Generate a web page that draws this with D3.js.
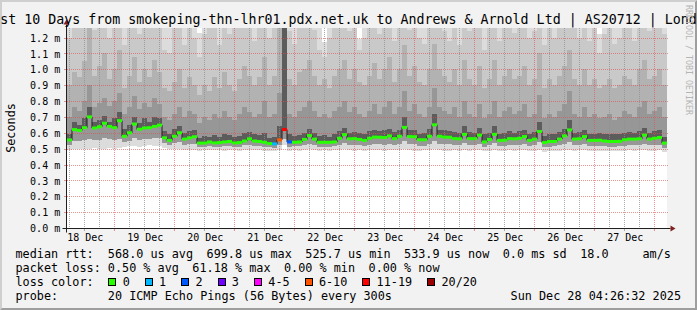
<!DOCTYPE html>
<html>
<head>
<meta charset="utf-8">
<script src="https://cdn.jsdelivr.net/npm/d3@7"></script>
<style>
  html, body { margin: 0; padding: 0; background: #f2f2f2; }
  svg { display: block; font-family: "DejaVu Sans Mono", monospace; }
</style>
</head>
<body>
<svg width="697" height="310"></svg>
<script>
// --- data (values in microseconds, one column per 2 hours) ---
const title = 'Last 10 Days from smokeping-thn-lhr01.pdx.net.uk to Andrews & Arnold Ltd | AS20712 | London';
const startTime = '2025-12-18T05:05:00Z';
const stepHours = 2;

const dayTicks = ['2025-12-18', '2025-12-19', '2025-12-20', '2025-12-21', '2025-12-22',
                  '2025-12-23', '2025-12-24', '2025-12-25', '2025-12-26', '2025-12-27'];
const yTicks = [0, 100, 200, 300, 400, 500, 600, 700, 800, 900, 1000, 1100, 1200];

// median rtt
const med = [
  555, 620, 615, 632, 700, 630, 638, 660, 640, 632,
  676, 578, 600, 655, 622, 630, 632, 640, 648, 568,
  552, 578, 600, 560, 568, 575, 535, 535, 542, 536,
  538, 542, 545, 536, 538, 548, 562, 548, 545, 540,
  532, 530, 555, 620, 542, 540, 542, 558, 582, 560,
  540, 540, 540, 542, 565, 588, 562, 563, 558, 552,
  565, 573, 572, 570, 580, 563, 578, 634, 576, 575,
  556, 556, 578, 650, 578, 573, 572, 563, 562, 590,
  563, 563, 585, 542, 558, 590, 552, 553, 563, 562,
  565, 576, 552, 560, 608, 538, 545, 545, 560, 580,
  618, 560, 562, 576, 552, 552, 553, 548, 545, 545,
  546, 556, 560, 560, 562, 585, 560, 565, 570, 535
];

// lost pings (of 20) per column
const loss = [
  0, 0, 0, 0, 0, 0, 0, 0, 0, 0,
  0, 0, 0, 0, 0, 0, 0, 0, 0, 0,
  0, 0, 0, 0, 0, 0, 0, 0, 0, 0,
  0, 0, 0, 0, 0, 0, 0, 0, 0, 0,
  0, 1, 7, 12, 2, 0, 0, 0, 0, 0,
  0, 0, 0, 0, 0, 0, 0, 0, 0, 0,
  0, 0, 0, 0, 0, 0, 0, 0, 0, 0,
  0, 0, 0, 0, 0, 0, 0, 0, 0, 0,
  0, 0, 0, 0, 0, 0, 0, 0, 0, 0,
  0, 0, 0, 0, 0, 0, 0, 0, 0, 0,
  0, 0, 0, 0, 0, 0, 0, 0, 0, 0,
  0, 0, 0, 0, 0, 0, 0, 0, 0, 0
];

// smoke: fastest ping
const lo = [
  490, 495, 498, 500, 497, 502, 498, 500, 503, 499,
  505, 512, 515, 518, 512, 516, 520, 514, 518, 505,
  500, 498, 495, 492, 494, 490, 488, 490, 492, 489,
  490, 487, 492, 490, 488, 491, 494, 490, 489, 487,
  485, 482, 490, 525, 488, 490, 487, 492, 495, 490,
  488, 490, 487, 489, 492, 495, 490, 488, 491, 487,
  490, 493, 490, 488, 492, 489, 491, 495, 490, 488,
  487, 489, 492, 495, 490, 488, 487, 489, 486, 491,
  488, 490, 493, 484, 487, 492, 486, 488, 490, 487,
  489, 492, 485, 488, 494, 480, 484, 486, 488, 490,
  493, 487, 489, 491, 486, 484, 487, 485, 482, 484,
  486, 488, 490, 487, 489, 492, 488, 486, 490, 480
];

// smoke: inner lower ping
const lo2 = [
  520, 545, 548, 555, 560, 552, 556, 565, 558, 552,
  560, 540, 550, 565, 555, 560, 562, 565, 568, 535,
  525, 535, 540, 525, 530, 532, 512, 510, 515, 512,
  512, 515, 518, 512, 513, 520, 525, 518, 516, 512,
  508, 505, 520, 560, 512, 514, 515, 522, 530, 522,
  512, 512, 513, 515, 525, 535, 522, 523, 520, 518,
  525, 530, 528, 526, 532, 522, 530, 545, 530, 528,
  518, 518, 530, 548, 530, 528, 527, 522, 520, 535,
  522, 522, 532, 512, 520, 535, 517, 518, 522, 520,
  524, 530, 516, 520, 540, 508, 513, 514, 520, 530,
  540, 520, 522, 530, 516, 515, 516, 514, 512, 513,
  514, 518, 522, 520, 522, 532, 520, 522, 525, 505
];

// smoke: upper pings, outermost (up1) to innermost (up5)
const up1 = [
  1300, 1300, 1300, 1300, 1300, 1300, 1300, 1300, 1300, 1300,
  1300, 1300, 1300, 1300, 1300, 1300, 1300, 1300, 1300, 1300,
  1300, 1300, 1300, 1300, 1300, 1300, 1230, 1300, 1300, 1300,
  1300, 1300, 1300, 1300, 1300, 1300, 1300, 1300, 1300, 1300,
  1300, 1300, 1300, 1300, 1300, 1300, 1300, 1300, 1300, 1300,
  1300, 1170, 1300, 1300, 1300, 1300, 1300, 1300, 1190, 1300,
  1300, 1300, 1300, 1300, 1300, 1300, 1300, 1300, 1300, 1300,
  1300, 1300, 1300, 1300, 1300, 1300, 1300, 1300, 1300, 1300,
  1300, 1300, 1300, 1300, 1300, 1300, 1300, 1300, 1300, 1300,
  1300, 1300, 1300, 1300, 1300, 1300, 1300, 1300, 1300, 1300,
  1300, 1300, 1300, 1300, 1300, 1300, 1220, 1300, 1300, 1300,
  1300, 1300, 1300, 1300, 1300, 1300, 1300, 1300, 1300, 1300
];
const up2 = [
  1200, 1300, 1300, 1300, 1300, 1250, 1300, 1300, 1200, 1300,
  1300, 1150, 1300, 1300, 1220, 1300, 1260, 1300, 1300, 1120,
  1100, 1300, 1300, 1150, 1300, 1200, 1080, 1220, 1300, 1300,
  1150, 1300, 1220, 1300, 1260, 1300, 1300, 1180, 1300, 1300,
  1200, 1300, 1300, 1300, 1240, 1160, 1300, 1300, 1300, 1250,
  1120, 1080, 1200, 1300, 1300, 1300, 1240, 1300, 1120, 1200,
  1300, 1300, 1220, 1300, 1300, 1180, 1300, 1300, 1250, 1300,
  1200, 1160, 1300, 1300, 1300, 1240, 1180, 1300, 1150, 1300,
  1240, 1300, 1300, 1120, 1260, 1300, 1180, 1300, 1300, 1230,
  1300, 1300, 1200, 1240, 1300, 1150, 1300, 1200, 1300, 1300,
  1300, 1260, 1200, 1300, 1180, 1260, 1100, 1220, 1300, 1160,
  1200, 1300, 1260, 1180, 1300, 1300, 1240, 1300, 1300, 1220
];
const up3 = [
  900, 980, 950, 1050, 1300, 960, 1020, 1100, 940, 1000,
  1120, 880, 960, 1080, 920, 1000, 950, 1060, 980, 880,
  860, 920, 1000, 880, 950, 900, 840, 900, 860, 950,
  880, 980, 900, 860, 940, 1020, 960, 900, 950, 1080,
  900, 960, 1300, 1300, 940, 900, 980, 1000, 1060, 960,
  900, 940, 880, 960, 1000, 1060, 940, 1000, 920, 900,
  960, 1040, 940, 1000, 1080, 920, 1000, 1150, 960, 1020,
  920, 900, 1000, 1160, 1000, 960, 920, 1000, 900, 1060,
  940, 900, 1020, 880, 940, 1060, 900, 960, 1000, 940,
  960, 1020, 900, 940, 1100, 880, 940, 900, 960, 1020,
  1120, 940, 900, 1000, 900, 940, 880, 900, 940, 880,
  900, 960, 940, 900, 1000, 1060, 940, 960, 1000, 900
];
const up4 = [
  700, 760, 740, 800, 900, 760, 790, 820, 770, 800,
  850, 720, 760, 830, 750, 790, 760, 820, 780, 700,
  680, 720, 760, 700, 740, 720, 660, 700, 680, 720,
  690, 740, 700, 680, 720, 760, 730, 700, 720, 800,
  700, 720, 850, 1300, 720, 700, 740, 760, 800, 740,
  700, 720, 690, 740, 760, 800, 730, 760, 720, 700,
  740, 780, 720, 760, 800, 720, 760, 860, 740, 780,
  720, 700, 760, 880, 760, 740, 720, 760, 700, 800,
  720, 700, 780, 690, 720, 800, 700, 740, 760, 720,
  740, 780, 700, 720, 840, 690, 720, 700, 740, 780,
  860, 720, 700, 760, 700, 720, 690, 700, 720, 680,
  700, 740, 720, 700, 760, 800, 720, 740, 760, 700
];
const up5 = [
  590, 665, 650, 690, 760, 665, 680, 705, 670, 690,
  730, 625, 650, 700, 660, 690, 670, 700, 690, 610,
  590, 625, 640, 600, 610, 615, 570, 580, 575, 585,
  575, 590, 585, 575, 580, 600, 605, 590, 585, 600,
  570, 575, 640, 1300, 590, 580, 585, 600, 625, 600,
  580, 585, 575, 590, 610, 630, 600, 605, 600, 590,
  610, 620, 610, 615, 625, 605, 620, 700, 615, 620,
  595, 600, 625, 720, 620, 615, 610, 605, 600, 640,
  605, 600, 630, 590, 600, 640, 595, 600, 610, 600,
  610, 620, 595, 605, 670, 580, 590, 590, 605, 625,
  680, 600, 605, 620, 595, 590, 600, 590, 590, 590,
  590, 600, 605, 600, 610, 630, 600, 610, 615, 575
];

// legend values
const rttStats = [568.0, 699.8, 525.7, 533.9];
const statNames = ['avg', 'max', 'min', 'now'];
const rttSd = 0.0;
const rttAmps = 18.0;
const lossStats = [0.50, 61.18, 0.00, 0.00];
const lossLabels = ['0', '1', '2', '3', '4-5', '6-10', '11-19', '20/20'];
const lossColors = ['#26ff00', '#00b8ff', '#0059ff', '#7000ff', '#ff00ff', '#ff5500', '#ff0000', '#9a0000'];
const probeText = '20 ICMP Echo Pings (56 Bytes) every 300s';
const stampText = 'Sun Dec 28 04:26:32 2025';

// --- layout ---
const svg = d3.select('svg');
const W = +svg.attr('width');
const H = +svg.attr('height');
const plot = { left: 67, right: 667, top: 28, bottom: 228 };

const gridColor = 'rgba(143,143,143,0.75)';
const mgridColor = 'rgba(222,79,79,0.6)';
const axisColor = '#1f1f1f';
const arrowColor = '#801f1f';

const n = med.length;
const t0 = new Date(startTime);
const t1 = d3.utcHour.offset(t0, n * stepHours);
const colTime = k => d3.utcHour.offset(t0, k * stepHours);

const x = d3.scaleUtc().domain([t0, t1]).range([plot.left, plot.right]);
const y = d3.scaleLinear().domain([0, 1260]).range([plot.bottom, plot.top]).clamp(true);
const px = v => Math.floor(v) + 0.5;

// background + 3d frame
svg.append('rect').attr('width', W).attr('height', H).attr('fill', '#f2f2f2');
svg.append('path')
    .attr('d', `M0,0 H${W} L${W - 2},2 H2 V${H - 2} L0,${H} Z`)
    .attr('fill', '#cfcfcf');
svg.append('path')
    .attr('d', `M0,${H} L2,${H - 2} H${W - 2} V2 L${W},0 V${H} Z`)
    .attr('fill', '#9e9e9e');

svg.append('rect')
    .attr('x', plot.left).attr('y', plot.top)
    .attr('width', plot.right - plot.left).attr('height', plot.bottom - plot.top)
    .attr('fill', '#ffffff');

// --- smoke ---
const bands = [
    { top: up1, bottom: lo, color: '#dcdcdc' },
    { top: up2, bottom: lo2, color: '#c9c9c9' },
    { top: up3, bottom: lo2, color: '#b2b2b2' },
    { top: up4, bottom: lo2, color: '#979797' },
    { top: up5, bottom: med, color: '#5c5c5c' }
];

const smoke = svg.append('g').attr('class', 'smoke');
bands.forEach(b => {
    smoke.append('g')
        .selectAll('rect')
        .data(d3.range(n))
        .join('rect')
        .attr('x', k => x(colTime(k)))
        .attr('width', k => x(colTime(k + 1)) - x(colTime(k)))
        .attr('y', k => y(b.top[k]))
        .attr('height', k => Math.max(0, y(b.bottom[k]) - y(b.top[k])))
        .attr('fill', b.color)
        .attr('shape-rendering', 'crispEdges');
});

// --- grid ---
const grid = svg.append('g').attr('class', 'grid').attr('fill', 'none');

const minorTimes = d3.utcHour.every(6).range(t0, t1).filter(d => d.getUTCHours() !== 0);
grid.selectAll('.minor-x')
    .data(minorTimes)
    .join('line')
    .attr('x1', d => px(x(d))).attr('x2', d => px(x(d)))
    .attr('y1', plot.top).attr('y2', plot.bottom)
    .attr('stroke', gridColor)
    .attr('stroke-dasharray', '1,1');

const majorTimes = d3.utcDay.range(t0, t1);
grid.selectAll('.major-x')
    .data(majorTimes)
    .join('line')
    .attr('x1', d => px(x(d))).attr('x2', d => px(x(d)))
    .attr('y1', plot.top).attr('y2', plot.bottom)
    .attr('stroke', mgridColor)
    .attr('stroke-dasharray', '1,1');

grid.selectAll('.major-y')
    .data(yTicks.slice(1))
    .join('line')
    .attr('x1', plot.left).attr('x2', plot.right + 2)
    .attr('y1', d => Math.round(y(d)) + 0.5).attr('y2', d => Math.round(y(d)) + 0.5)
    .attr('stroke', mgridColor)
    .attr('stroke-dasharray', '1,1');

// small solid ticks outside the axes
grid.selectAll('.tick-y')
    .data(yTicks)
    .join('line')
    .attr('x1', plot.left - 3).attr('x2', plot.left)
    .attr('y1', d => Math.round(y(d)) + 0.5).attr('y2', d => Math.round(y(d)) + 0.5)
    .attr('stroke', mgridColor);

const noonTimes = dayTicks.map(d => new Date(d + 'T12:00:00Z'));
grid.selectAll('.tick-x')
    .data(noonTimes.concat(majorTimes))
    .join('line')
    .attr('x1', d => px(x(d))).attr('x2', d => px(x(d)))
    .attr('y1', plot.bottom + 1).attr('y2', plot.bottom + 3)
    .attr('stroke', (d, i) => i < noonTimes.length ? gridColor : mgridColor);

// --- median line + loss coloured bars ---
const medLine = d3.line()
    .x(k => x(colTime(k)))
    .y(k => y(med[Math.min(k, n - 1)]))
    .curve(d3.curveStepAfter);

svg.append('path')
    .datum(d3.range(n + 1))
    .attr('d', medLine)
    .attr('fill', 'none')
    .attr('stroke', '#202020')
    .attr('stroke-width', 1);

const lossColor = d3.scaleThreshold()
    .domain([1, 2, 3, 4, 6, 11, 20])
    .range(lossColors);

svg.append('g')
    .selectAll('rect')
    .data(d3.range(n))
    .join('rect')
    .attr('x', k => x(colTime(k)))
    .attr('width', k => x(colTime(k + 1)) - x(colTime(k)))
    .attr('y', k => y(med[k]) - 1.5)
    .attr('height', 3)
    .attr('fill', k => lossColor(loss[k]));

// --- axes ---
svg.append('line')
    .attr('x1', plot.left - 4.5).attr('x2', plot.right + 3.5)
    .attr('y1', plot.bottom + 0.5).attr('y2', plot.bottom + 0.5)
    .attr('stroke', axisColor);
svg.append('path')
    .attr('d', `M${plot.right + 3.5},${plot.bottom - 2.5} L${plot.right + 8.5},${plot.bottom + 0.5} L${plot.right + 3.5},${plot.bottom + 3.5} Z`)
    .attr('fill', arrowColor);

svg.append('line')
    .attr('x1', plot.left - 0.5).attr('x2', plot.left - 0.5)
    .attr('y1', plot.bottom + 4.5).attr('y2', plot.top - 3.5)
    .attr('stroke', axisColor);
svg.append('path')
    .attr('d', `M${plot.left - 3.5},${plot.top - 3.5} L${plot.left - 0.5},${plot.top - 8.5} L${plot.left + 2.5},${plot.top - 3.5} Z`)
    .attr('fill', arrowColor);

const yAxis = d3.axisLeft(y)
    .tickValues(yTicks)
    .tickSize(0)
    .tickPadding(6.3)
    .tickFormat(d => (d / 1000).toFixed(1) + ' m');

svg.append('g')
    .attr('transform', `translate(${plot.left - 0.5},0)`)
    .call(yAxis)
    .call(g => g.select('.domain').remove())
    .selectAll('text')
    .attr('dy', '0.37em')
    .style('font-family', '"DejaVu Sans Mono", monospace')
    .style('font-size', '10px')
    .style('fill', '#000');

const xAxis = d3.axisBottom(x)
    .tickValues(noonTimes)
    .tickSize(0)
    .tickPadding(5.4)
    .tickFormat(d3.utcFormat('%d %b'));

svg.append('g')
    .attr('transform', `translate(0.5,${plot.bottom + 0.5})`)
    .call(xAxis)
    .call(g => g.select('.domain').remove())
    .selectAll('text')
    .style('font-family', '"DejaVu Sans Mono", monospace')
    .style('font-size', '10px')
    .style('fill', '#000');

svg.append('text')
    .attr('transform', `translate(15.3,${(plot.top + plot.bottom) / 2}) rotate(-90)`)
    .attr('text-anchor', 'middle')
    .style('font-size', '11.8px')
    .text('Seconds');

// --- title ---
svg.append('text')
    .attr('x', W / 2)
    .attr('y', 24)
    .attr('text-anchor', 'middle')
    .style('font-size', '13.3px')
    .text(title);

// --- legend (items laid out one after another, rrdtool style) ---
const legend = svg.append('g').style('font-size', '11.8px').style('fill', '#000');
const rows = [258, 272, 286, 300];
const legendX = 15.5;
const itemGap = 13.5;
const put = (xx, row, txt, anchor) => legend.append('text')
    .attr('x', xx).attr('y', rows[row])
    .attr('text-anchor', anchor || 'start')
    .attr('xml:space', 'preserve')
    .style('white-space', 'pre')
    .text(txt);
const putRow = (row, items) => {
    let xx = legendX;
    items.forEach(s => {
        const t = put(xx, row, s);
        xx += t.node().getComputedTextLength() + itemGap;
    });
    return xx;
};

const rttItems = rttStats.map((v, i) => `${v.toFixed(1)} us ${statNames[i]}`);
rttItems[0] = 'median rtt:  ' + rttItems[0];
putRow(0, rttItems.concat([`${rttSd.toFixed(1)} ms sd`, rttAmps.toFixed(1)]));
put(642.5, 0, 'am/s');

const lossItems = lossStats.map((v, i) => `${v.toFixed(2)} % ${statNames[i]}`);
lossItems[0] = 'packet loss: ' + lossItems[0];
putRow(1, lossItems);

const lbl = put(legendX, 2, 'loss color:  ');
let sx = legendX + lbl.node().getComputedTextLength() + 0.5;
lossLabels.forEach((lab, i) => {
    legend.append('rect')
        .attr('x', Math.round(sx) + 0.5).attr('y', 278.5)
        .attr('width', 7).attr('height', 7)
        .attr('fill', lossColors[i])
        .attr('stroke', '#000');
    const t = put(sx + 14.3, 2, lab);
    sx = sx + 14.3 + t.node().getComputedTextLength() + 15;
});

put(legendX, 3, 'probe:       ' + probeText);
put(681, 3, stampText, 'end');

// --- watermark ---
svg.append('text')
    .attr('transform', 'translate(685.5,5) rotate(90)')
    .style('font-size', '8.3px')
    .style('fill', '#b5b5b5')
    .text('RRDTOOL / TOBI OETIKER');
</script>
</body>
</html>
